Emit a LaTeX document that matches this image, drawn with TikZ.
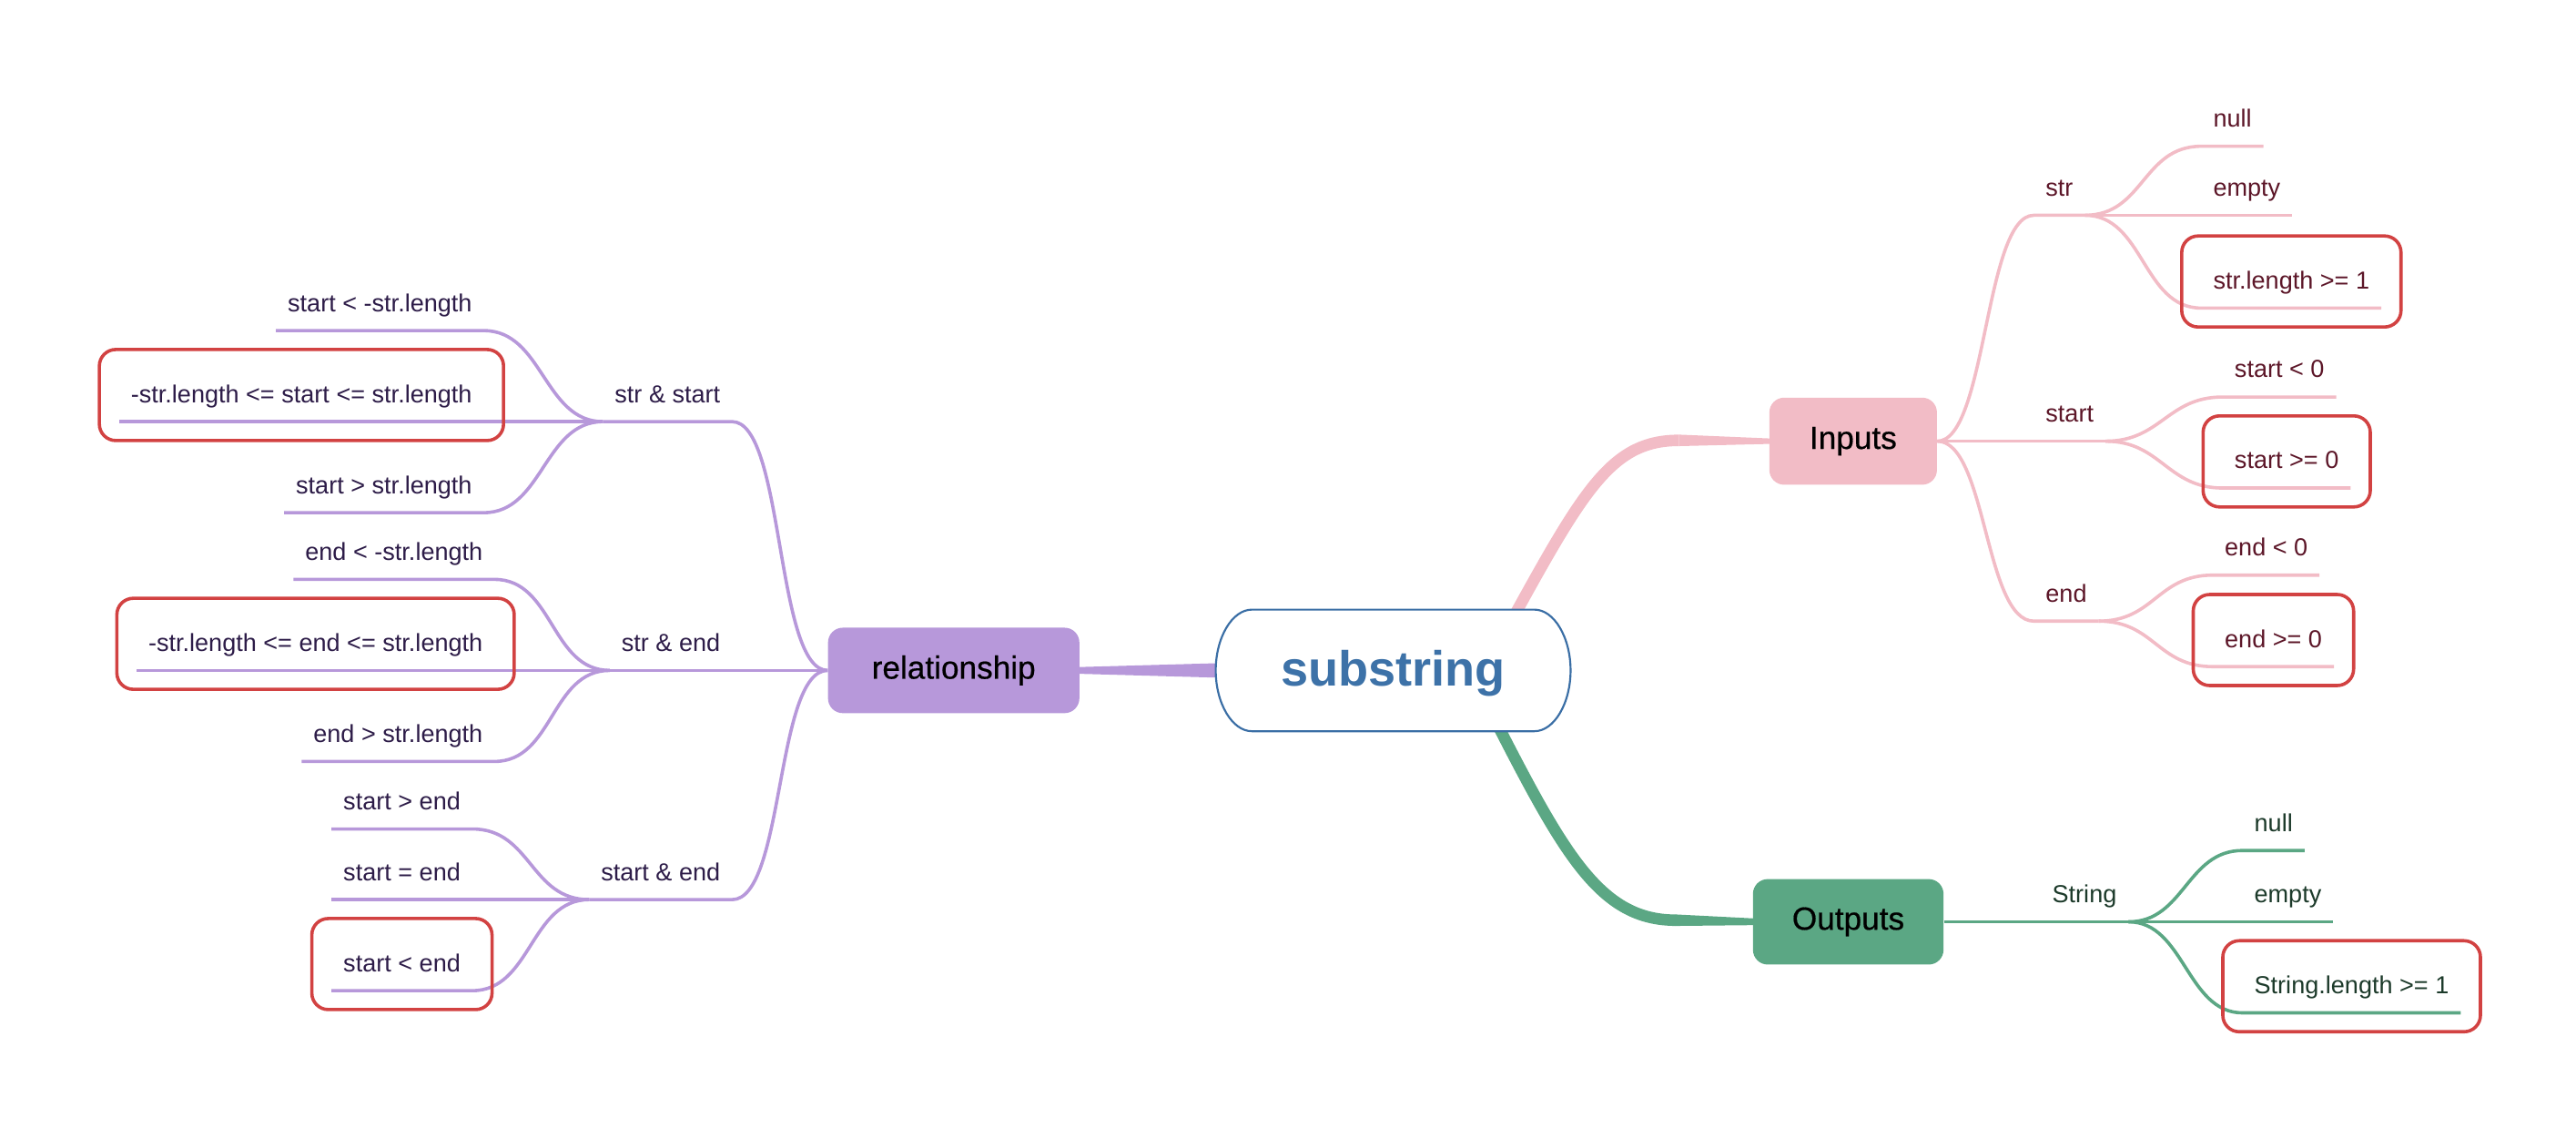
\documentclass[tikz,border=0pt]{standalone}
\usepackage{fontspec}
\setmainfont{Liberation Sans}
\newfontfamily\medfont[FakeBold=0.5]{Liberation Sans}
\usetikzlibrary{fit,backgrounds,calc}
\definecolor{pinkl}{RGB}{242,188,198}
\definecolor{pinkt}{RGB}{92,22,40}
\definecolor{purl}{RGB}{183,152,218}
\definecolor{purt}{RGB}{45,28,72}
\definecolor{grnl}{RGB}{91,167,132}
\definecolor{grnt}{RGB}{28,58,42}
\definecolor{redb}{RGB}{210,66,66}
\definecolor{blueb}{RGB}{58,110,165}
\definecolor{bluet}{RGB}{61,114,168}
\tikzset{
 lf/.style={font=\fontsize{15}{18}\selectfont, minimum height=31pt, inner xsep=7pt, inner ysep=0pt, text height=11pt, text depth=3pt},
 pk/.style={lf,text=pinkt},
 pu/.style={lf,text=purt},
 gr/.style={lf,text=grnt},
 pkl/.style={draw=pinkl,line width=2pt},
 pul/.style={draw=purl,line width=2pt},
 grl/.style={draw=grnl,line width=2pt},
 mainbox/.style={rounded corners=9pt, inner sep=0pt, minimum width=102pt, minimum height=53pt, font=\medfont\fontsize{19.5}{23}\selectfont, text=black},
 redbox/.style={draw=redb, line width=2pt, rounded corners=10pt, inner xsep=12pt, inner ysep=12pt, yshift=0.5pt},
}
\begin{document}
\begin{tikzpicture}[x=1pt,y=-1pt]
\useasboundingbox (0,0) rectangle (1568,686);

% central node outline (rounded ends)
\filldraw[draw=blueb, line width=1.2pt, fill=white]
 (762,371) -- (934,371) .. controls (946,371) and (956,388) .. (956,408)
 .. controls (956,428) and (946,445) .. (934,445) -- (762,445)
 .. controls (750,445) and (740,428) .. (740,408)
 .. controls (740,388) and (750,371) .. (762,371) -- cycle;
\node[minimum width=216pt, minimum height=74pt, inner sep=0pt, text=bluet, font=\fontsize{30}{36}\selectfont\bfseries] (sub) at (848,410) {substring};
\node[mainbox, fill=pinkl] (inp) at (1128,268.5) {Inputs};
\node[mainbox, fill=grnl, minimum width=116pt, minimum height=52pt] (outp) at (1125,561) {Outputs};
\node[mainbox, fill=purl, minimum width=153pt, minimum height=52pt] (rel) at (580.5,408) {relationship};

% Inputs branch
\node[pk, anchor=south west] (nstr) at (1238,131) {str};
\node[pk, anchor=south west] (nstart) at (1238,268.5) {start};
\node[pk, anchor=south west] (nend) at (1238,378) {end};
\node[pk, anchor=south west] (inull) at (1340,89) {null};
\node[pk, anchor=south west] (iempty) at (1340,131) {empty};
\node[pk, anchor=south west] (ilen) at (1340,187.5) {str.length >= 1};
\node[pk, anchor=south west] (slt) at (1353,241.6) {start < 0};
\node[pk, anchor=south west] (sge) at (1353,297) {start >= 0};
\node[pk, anchor=south west] (elt) at (1347,350) {end < 0};
\node[pk, anchor=south west] (ege) at (1347,405.7) {end >= 0};

% Outputs branch
\node[gr, anchor=south west] (nString) at (1242,561) {String};
\node[gr, anchor=south west] (onull) at (1365,517.6) {null};
\node[gr, anchor=south west] (oempty) at (1365,561) {empty};
\node[gr, anchor=south west] (olen) at (1365,616.4) {String.length >= 1};

% relationship branch
\node[pu, anchor=south east] (ss) at (445.6,256.6) {str \& start};
\node[pu, anchor=south east] (se) at (445.6,408) {str \& end};
\node[pu, anchor=south east] (sn) at (445.6,547.5) {start \& end};
\node[pu, anchor=south east] (sl1) at (294.5,201.2) {start < -str.length};
\node[pu, anchor=south east] (sl2) at (294.5,256.6) {-str.length <= start <= str.length};
\node[pu, anchor=south east] (sl3) at (294.5,312) {start > str.length};
\node[pu, anchor=south east] (el1) at (301,352.6) {end < -str.length};
\node[pu, anchor=south east] (el2) at (301,408) {-str.length <= end <= str.length};
\node[pu, anchor=south east] (el3) at (301,463.4) {end > str.length};
\node[pu, anchor=south east] (se1) at (287.5,504.5) {start > end};
\node[pu, anchor=south east] (se2) at (287.5,547.5) {start = end};
\node[pu, anchor=south east] (se3) at (287.5,602.9) {start < end};

% red highlight boxes
\node[redbox, fit=(ilen)] (b1) {};
\node[redbox, fit=(sge)] (b2) {};
\node[redbox, fit=(ege)] (b3) {};
\node[redbox, fit=(olen)] (b4) {};
\node[redbox, fit=(sl2)] (b5) {};
\node[redbox, fit=(el2)] (b6) {};
\node[redbox, fit=(se3)] (b7) {};

\begin{scope}[on background layer]
% main tapered connectors
\draw[pinkl, line width=7pt] (921,376) .. controls (965,296) and (982,268) .. (1022,268);
\fill[pinkl] (1022,264.5) -- ($(inp.west)+(2,-1.6)$) -- ($(inp.west)+(2,1.6)$) -- (1022,271.5) -- cycle;
\draw[grnl, line width=7pt] (911,440) .. controls (953,522) and (975,560) .. (1020,560);
\fill[grnl] (1020,556.5) -- ($(outp.west)+(2,-2)$) -- ($(outp.west)+(2,2)$) -- (1020,563.5) -- cycle;
\fill[purl] (745,403.5) -- ($(rel.east)+(-2,-2)$) -- ($(rel.east)+(-2,2)$) -- (745,412.5) -- cycle;

% Inputs connectors
\draw[pkl] (inp.east) .. controls +(30,0) and +(-30,0) .. (nstr.south west) -- (nstr.south east);
\draw[pkl] (inp.east) -- (nstart.south east);
\draw[pkl] (inp.east) .. controls +(30,0) and +(-30,0) .. (nend.south west) -- (nend.south east);
\draw[pkl] (nstr.south east) .. controls +(36,0) and +(-36,0) .. (inull.south west) -- (inull.south east);
\draw[pkl] (nstr.south east) -- (iempty.south east);
\draw[pkl] (nstr.south east) .. controls +(36,0) and +(-36,0) .. (ilen.south west) -- (ilen.south east);
\draw[pkl] (nstart.south east) .. controls +(34,0) and +(-34,0) .. (slt.south west) -- (slt.south east);
\draw[pkl] (nstart.south east) .. controls +(34,0) and +(-34,0) .. (sge.south west) -- (sge.south east);
\draw[pkl] (nend.south east) .. controls +(34,0) and +(-34,0) .. (elt.south west) -- (elt.south east);
\draw[pkl] (nend.south east) .. controls +(34,0) and +(-34,0) .. (ege.south west) -- (ege.south east);

% Outputs connectors
\draw[grl] (outp.east) -- (nString.south east);
\draw[grl] (nString.south east) .. controls +(34,0) and +(-34,0) .. (onull.south west) -- (onull.south east);
\draw[grl] (nString.south east) -- (oempty.south east);
\draw[grl] (nString.south east) .. controls +(34,0) and +(-34,0) .. (olen.south west) -- (olen.south east);

% relationship connectors
\draw[pul] (rel.west) .. controls +(-32,0) and +(32,0) .. (ss.south east) -- (ss.south west);
\draw[pul] (rel.west) -- (se.south west);
\draw[pul] (rel.west) .. controls +(-32,0) and +(32,0) .. (sn.south east) -- (sn.south west);
\draw[pul] (ss.south west) .. controls +(-36,0) and +(36,0) .. (sl1.south east) -- (sl1.south west);
\draw[pul] (ss.south west) -- (sl2.south west);
\draw[pul] (ss.south west) .. controls +(-36,0) and +(36,0) .. (sl3.south east) -- (sl3.south west);
\draw[pul] (se.south west) .. controls +(-36,0) and +(36,0) .. (el1.south east) -- (el1.south west);
\draw[pul] (se.south west) -- (el2.south west);
\draw[pul] (se.south west) .. controls +(-36,0) and +(36,0) .. (el3.south east) -- (el3.south west);
\draw[pul] (sn.south west) .. controls +(-36,0) and +(36,0) .. (se1.south east) -- (se1.south west);
\draw[pul] (sn.south west) -- (se2.south west);
\draw[pul] (sn.south west) .. controls +(-36,0) and +(36,0) .. (se3.south east) -- (se3.south west);
\end{scope}
\end{tikzpicture}
\end{document}
